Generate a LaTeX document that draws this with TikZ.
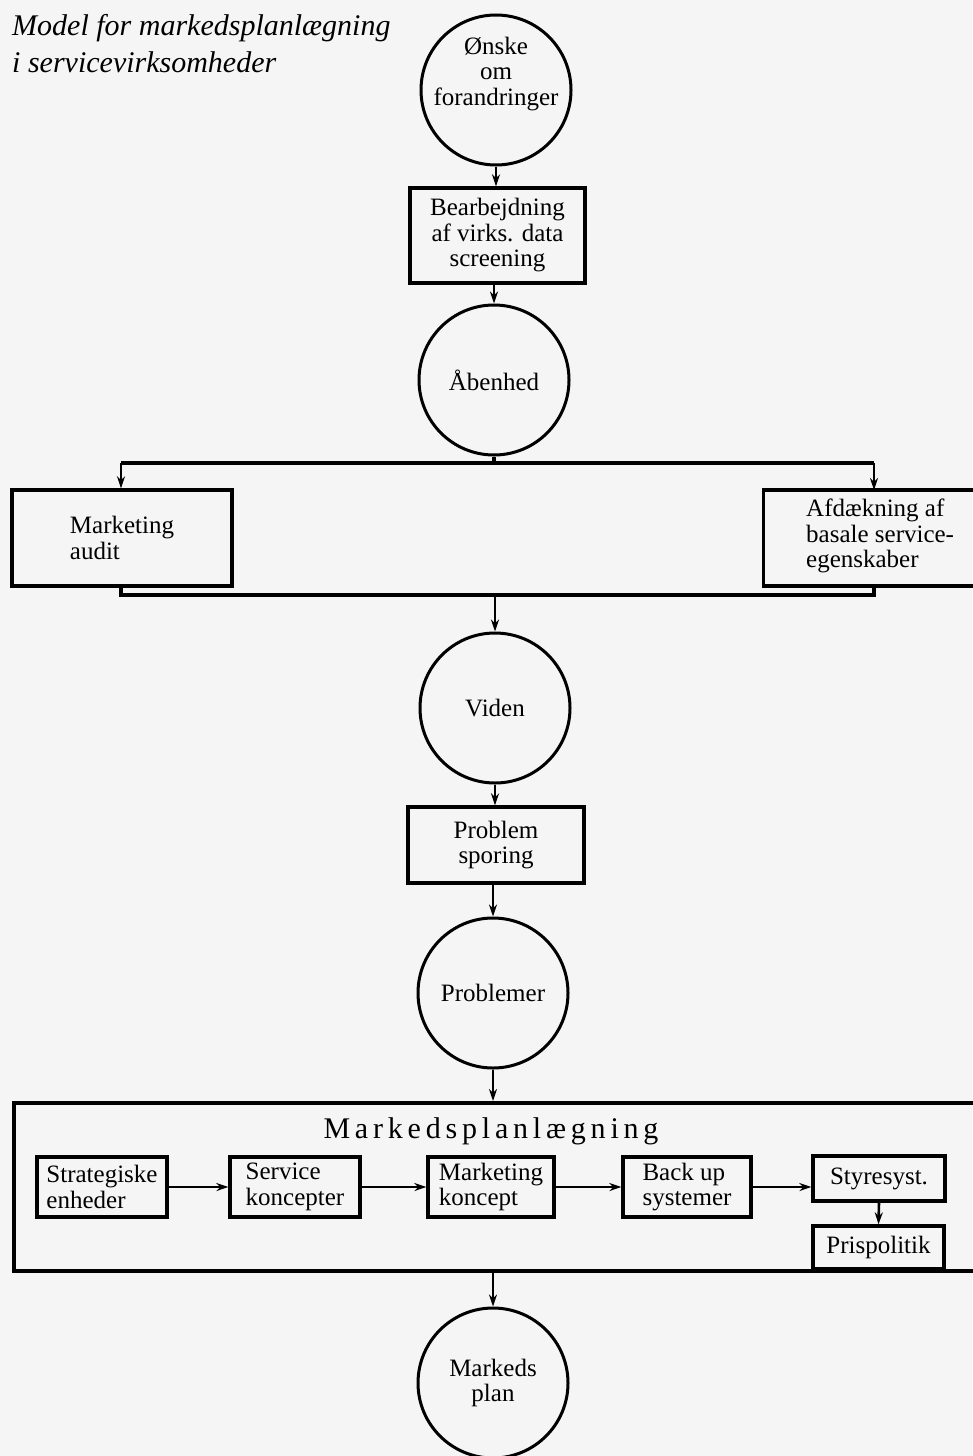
\documentclass[tikz,border=0pt]{standalone}
\usepackage{fontspec}
\setmainfont{Liberation Serif}
\usetikzlibrary{arrows.meta}
\begin{document}
\begin{tikzpicture}[x=1pt,y=-1pt,
  font=\fontsize{25}{25.5}\selectfont,
  circ/.style={circle, draw, line width=3pt, minimum size=150pt, inner sep=0pt, align=center},
  box/.style={draw, line width=3.3pt, inner sep=0pt, align=center},
  ibox/.style={draw, line width=3.3pt, inner sep=0pt, align=left},
  txt/.style={inner sep=0pt, align=left},
  arr/.style={-{Stealth[length=12pt,width=8pt]}, line width=2.6pt},
  ln/.style={line width=3.3pt}]
\fill[black!4] (0,0) rectangle (972,1456);
\useasboundingbox (0,0) rectangle (972,1456);

% title
\node[txt, anchor=base west, font=\fontsize{30}{37}\selectfont\itshape] (ti1) at (12,35) {Model for markedsplanlægning};
\node[txt, anchor=base west, font=\fontsize{30}{37}\selectfont\itshape] (ti2) at (12,72) {i servicevirksomheder};

% column
\node[circ] (c1) at (496,90) {};
\node[txt, align=center] (c1t) at (496,74) {Ønske\\om\\forandringer};
\node[box, minimum width=175pt, minimum height=95pt] (b1) at (497.5,235.5) {Bearbejdning\\af virks. data\\screening};
\node[circ] (c2) at (494,380) {Åbenhed};

\node[box, minimum width=220pt, minimum height=96pt, align=left] (ma) at (122,538) {Marketing\\audit};
\node[box, minimum width=223pt, minimum height=96pt, anchor=west] (af) at (762,538) {};
\node[txt, anchor=west] (aft) at (806,536) {Afdækning af\\basale service-\\egenskaber};

\coordinate (sp) at (494,463);
\coordinate (jn) at (495,595);
\coordinate (spL) at (121,463);
\coordinate (spR) at (874,463);
\coordinate (jnL) at (121,595);
\coordinate (jnR) at (874,595);
\coordinate (afN) at (874,490);
\coordinate (afS) at (874,586);

\node[circ] (c3) at (495,708) {Viden};
\node[box, minimum width=176pt, minimum height=76pt] (b3) at (496,845) {Problem\\sporing};
\node[circ] (c4) at (493,993) {Problemer};

% big box
\node[draw, line width=3.5pt, inner sep=0pt, minimum width=973pt, minimum height=168pt, anchor=north west] (mp) at (12,1101) {};
\node[inner sep=0pt, font=\fontsize{30}{32}\selectfont\addfontfeature{LetterSpace=16}] (mpt) at (491,1131) {Markedsplanlægning};

\node[ibox, minimum width=130pt, minimum height=60pt] (s1) at (102,1187) {Strategiske\\enheder};
\node[ibox, minimum width=130pt, minimum height=60pt] (s2) at (295,1187) {Service\\koncepter};
\node[ibox, minimum width=126pt, minimum height=60pt] (s3) at (491,1187) {Marketing\\koncept};
\node[ibox, minimum width=128pt, minimum height=60pt] (s4) at (687,1187) {Back up\\systemer};
\node[box, minimum width=132pt, minimum height=45pt] (s5) at (879,1178.5) {Styresyst.};
\node[box, minimum width=131pt, minimum height=43pt] (s6) at (878.5,1247.5) {Prispolitik};

\node[circ] (c5) at (493,1383) {Markeds\\plan};

% connectors
\draw[arr] (c1.south) -- (b1.north -| c1.south);
\draw[arr] (b1.south -| c2.north) -- (c2.north);
\draw[ln] (c2.south) -- (sp);
\draw[ln] (spL) -- (spR);
\draw[arr] (spL) -- (ma.north -| spL);
\draw[arr] (spR) -- (afN);
\draw[ln] (ma.south -| jnL) -- (jnL) -- (jnR) -- (afS);
\draw[arr] (jn) -- (c3.north);
\draw[arr] (c3.south) -- (b3.north -| c3.south);
\draw[arr] (b3.south -| c4.north) -- (c4.north);
\draw[arr] (c4.south) -- (mp.north -| c4.south);
\draw[arr] (s1.east) -- (s2.west);
\draw[arr] (s2.east) -- (s3.west);
\draw[arr] (s3.east) -- (s4.west);
\draw[arr] (s4.east) -- (s4.east -| s5.west);
\draw[arr] (s5.south) -- (s6.north);
\draw[arr] (mp.south -| c5.north) -- (c5.north);
\end{tikzpicture}
\end{document}
